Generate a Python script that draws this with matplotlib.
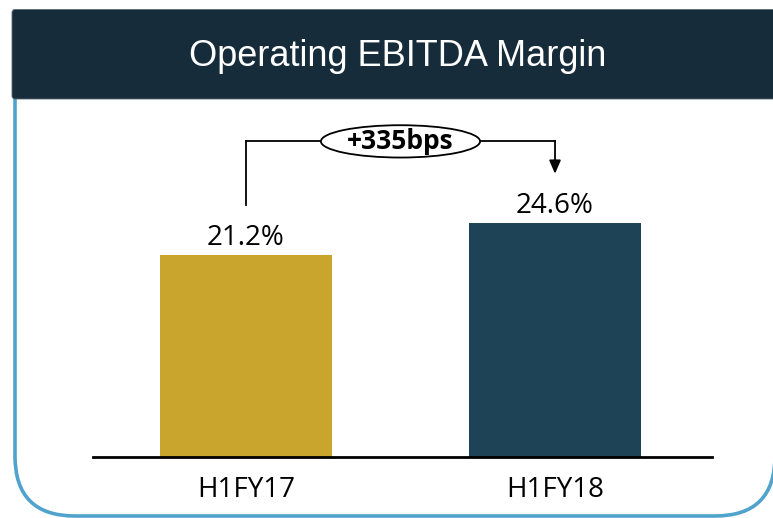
import matplotlib
matplotlib.use("Agg")
import matplotlib.pyplot as plt
from matplotlib.patches import FancyBboxPatch, Ellipse

categories = ["H1FY17", "H1FY18"]
margins = [21.2, 24.6]
value_labels = ["21.2%", "24.6%"]
change_label = "+335bps"
title = "Operating EBITDA Margin"
bar_colors = ["#C9A52D", "#1E4256"]

W, H = 773, 518
fig = plt.figure(figsize=(W / 100, H / 100), dpi=100)
body_font = ["Open Sans", "DejaVu Sans"]

# background frame in pixel coordinates
bg = fig.add_axes([0, 0, 1, 1])
bg.set_xlim(0, W)
bg.set_ylim(H, 0)
bg.axis("off")
panel = FancyBboxPatch((15, 40), 760, 476, boxstyle="round,pad=0,rounding_size=60",
                       facecolor="white", edgecolor="#4FA3CC", linewidth=2.6)
bg.add_patch(panel)
header = FancyBboxPatch((12, 9.5), 790, 89.5, boxstyle="round,pad=0,rounding_size=3",
                        facecolor="#172C3A", edgecolor="#5A6A74", linewidth=0.6)
bg.add_patch(header)
bg.text(398, 57, title, ha="center", va="center", color="white", fontsize=26,
        family=["Liberation Sans", "DejaVu Sans"])

# chart
ax = fig.add_axes([93 / W, (H - 457) / H, 619 / W, 347 / H])
ax.patch.set_alpha(0)
x = [0, 1]
ax.bar(x, margins, width=0.557, color=bar_colors, zorder=2)
ax.set_xlim(-0.495, 1.508)
ax.set_ylim(0, 36.5)
for s in ["top", "right", "left"]:
    ax.spines[s].set_visible(False)
ax.spines["bottom"].set_linewidth(2)
ax.set_yticks([])
ax.set_xticks(x)
ax.set_xticklabels(categories, fontsize=20, family=body_font)
ax.tick_params(axis="x", length=0, pad=14)

for xi, v, lbl in zip(x, margins, value_labels):
    ax.annotate(lbl, (xi, v), xytext=(0, 7.5), textcoords="offset points",
                ha="center", va="baseline", fontsize=20, family=body_font)

# change annotation
y_line = 33.2
ell_w, ell_h = 0.515, 3.4
ax.plot([x[0], x[0]], [margins[0] + 5.3, y_line], color="black", lw=1.3, clip_on=False)
ax.plot([x[0], 0.5 - ell_w / 2], [y_line, y_line], color="black", lw=1.3, clip_on=False)
ax.plot([0.5 + ell_w / 2, x[1]], [y_line, y_line], color="black", lw=1.3, clip_on=False)
ax.annotate("", xy=(x[1], margins[1] + 5.2), xytext=(x[1], y_line + 0.07),
            arrowprops=dict(arrowstyle="-|>,head_width=0.35,head_length=0.8",
                            color="black", lw=1.3, shrinkA=0, shrinkB=0),
            annotation_clip=False)
ax.add_patch(Ellipse((0.5, y_line), ell_w, ell_h, facecolor="white",
                     edgecolor="black", lw=1.3, clip_on=False, zorder=3))
ax.text(0.5, y_line, change_label, ha="center", va="center", fontsize=19,
        fontweight="bold", family=body_font, zorder=4)

fig.savefig("out.png", dpi=100)
